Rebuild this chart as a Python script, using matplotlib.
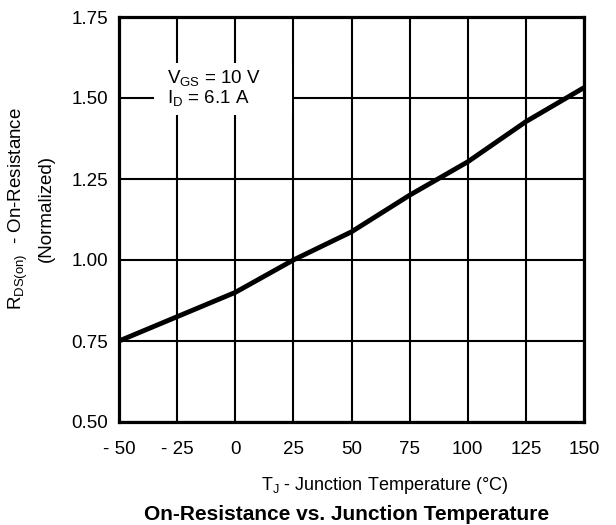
import matplotlib
matplotlib.use("Agg")
import matplotlib.pyplot as plt
from matplotlib.patches import Rectangle

plt.rcParams['font.family'] = ['Liberation Sans', 'DejaVu Sans']
plt.rcParams['mathtext.fontset'] = 'custom'
plt.rcParams['mathtext.rm'] = 'Liberation Sans'
plt.rcParams['mathtext.it'] = 'Liberation Sans'
plt.rcParams['mathtext.default'] = 'regular'

temps = [-50, -25, 0, 25, 50, 75, 100, 125, 150]
rds_norm = [0.75, 0.825, 0.90, 1.00, 1.087, 1.20, 1.303, 1.427, 1.532]
xticks = [-50, -25, 0, 25, 50, 75, 100, 125, 150]
xtick_labels = ['- 50', '- 25', '0', '25', '50', '75', '100', '125', '150']
yticks = [0.50, 0.75, 1.00, 1.25, 1.50, 1.75]
ytick_labels = ['0.50', '0.75', '1.00', '1.25', '1.50', '1.75']

fig = plt.figure(figsize=(6.16, 5.25), dpi=100)
ax = fig.add_axes([119/616, 1 - 422/525, (584-119)/616, (422-17)/525])
ax.set_xlim(-50, 150)
ax.set_ylim(0.5, 1.75)
ax.set_xticks(xticks)
ax.set_xticklabels(xtick_labels)
ax.set_yticks(yticks)
ax.set_yticklabels(ytick_labels)
ax.tick_params(length=0, labelsize=13.5)
ax.tick_params(axis='x', pad=14)
ax.tick_params(axis='y', pad=8)
ax.grid(True, color='black', linewidth=1.5)
ax.set_axisbelow(True)
for s in ax.spines.values():
    s.set_linewidth(2.3)

ax.plot(temps, rds_norm, color='black', linewidth=3.5, solid_capstyle='butt', zorder=3)

# white background box behind the condition label (axes-fraction layout)
ax.add_patch(Rectangle(((154-119)/465, (422-115)/405), (292-154)/465, (115-63)/405,
                       transform=ax.transAxes, facecolor='white', edgecolor='none', zorder=2.5))
ax.text((167-119)/465, (422-88)/405, '$V_{GS}$ = 10 V\n$I_{D}$ = 6.1 A', transform=ax.transAxes,
        fontsize=13.5, ha='left', va='center', linespacing=0.95, zorder=4)

fig.text(18/616, 1 - 209/525, '$R_{DS(on)}$  - On-Resistance', rotation=90,
         ha='center', va='center', fontsize=13.5)
fig.text(46/616, 1 - 209/525, '(Normalized)', rotation=90,
         ha='center', va='center', fontsize=13.5)
fig.text(385/616, 1 - 486/525, '$T_J$ - Junction Temperature (°C)', ha='center', va='center', fontsize=13)
fig.text(347/616, 1 - 514/525, 'On-Resistance vs. Junction Temperature', ha='center', va='center',
         fontsize=15, fontweight='bold')

fig.savefig('out.png', dpi=100)
